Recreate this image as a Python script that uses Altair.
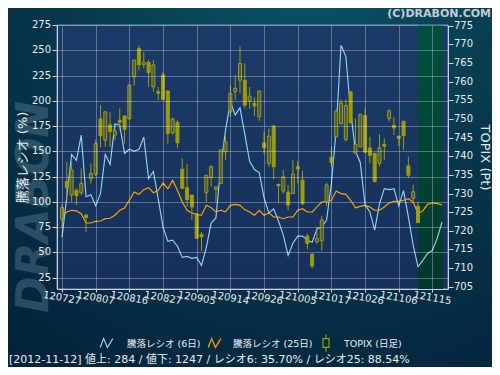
import altair as alt
import pandas as pd

# ---------------- data ----------------
tick_labels = ["120727", "120807", "120816", "120827", "120905", "120914",
               "120926", "121005", "121017", "121026", "121106", "121115"]
tick_step = 7
left_ticks = [25, 50, 75, 100, 125, 150, 175, 200, 225, 250, 275]
right_ticks = [705, 710, 715, 720, 725, 730, 735, 740, 745, 750, 755, 760, 765, 770, 775]

ratio6 = [65, 105, 147, 141, 166, 105, 107, 96, 108, 147,
          137, 177, 176, 148, 152, 150, 152, 164, 123, 130,
          103, 75, 61, 62, 56, 45, 46, 44, 45, 37,
          55, 79, 84, 135, 171, 199, 186, 193, 167, 140,
          132, 129, 104, 89, 93, 81, 67, 47, 59, 66,
          66, 62, 60, 73, 75, 82, 118, 172, 255, 244,
          190, 150, 139, 97, 90, 72, 98, 113, 112, 113,
          96, 111, 85, 57, 35.7, 42, 49, 52, 64, 80]

ratio25 = [85.0, 90.0, 91.6, 91.0, 88.3, 79.0, 79.0, 80.7, 81.0, 83.3,
           83.7, 86.7, 91.6, 93.9, 101.5, 109.7, 107.4, 112.0, 114.0, 109.0,
           111.4, 118.6, 113.0, 121.3, 111.4, 99.8, 91.6, 89.0, 87.3, 86.7,
           96.5, 94.2, 90.0, 91.6, 90.0, 96.5, 97.5, 96.5, 92.3, 90.0,
           86.7, 91.6, 86.7, 89.0, 85.0, 85.0, 83.3, 85.0, 85.0, 91.6,
           93.2, 89.9, 89.9, 94.9, 99.8, 100.5, 101.5, 110.7, 108.1, 107.4,
           101.5, 94.0, 95.5, 96.5, 94.9, 91.6, 91.6, 94.9, 98.8, 100.5,
           100.5, 101.5, 103.1, 99.8, 88.5, 91.0, 97.5, 98.8, 98.2, 96.8]

t_open = [723.1, 733.2, 729.6, 730.9, 730.2, 724.2, 734.0, 735.2, 750.0, 744.3,
          748.4, 745.7, 749.7, 750.8, 750.0, 761.3, 768.9, 764.6, 765.2, 758.6,
          757.3, 761.8, 757.5, 746.3, 749.1, 736.5, 731.6, 729.6, 724.6, 719.0,
          730.2, 734.3, 731.1, 732.7, 741.2, 751.9, 757.3, 760.4, 760.4, 754.8,
          754.2, 750.6, 743.6, 738.1, 748.1, 732.5, 730.7, 730.4, 730.0, 737.2,
          733.6, 718.6, 713.8, 717.1, 717.3, 727.8, 739.7, 745.2, 748.8, 744.5,
          757.3, 740.8, 742.5, 750.9, 742.2, 740.8, 738.1, 743.2, 750.1, 748.3,
          745.4, 749.4, 737.4, 728.7, 726.6]
t_high = [727.2, 738.5, 738.5, 731.4, 736.7, 724.6, 738.1, 744.5, 753.7, 752.2,
          751.9, 747.9, 752.8, 751.0, 759.1, 765.8, 769.8, 767.9, 765.8, 765.8,
          758.6, 762.5, 757.8, 750.4, 749.7, 739.4, 737.9, 729.6, 724.8, 719.7,
          734.9, 737.6, 731.8, 741.7, 746.1, 759.1, 761.8, 769.4, 764.9, 758.6,
          755.8, 757.5, 746.6, 747.5, 748.4, 732.5, 736.3, 732.3, 739.0, 738.8,
          736.1, 719.3, 713.8, 721.1, 723.9, 732.9, 742.7, 752.6, 755.2, 755.2,
          757.5, 750.1, 751.5, 752.8, 745.2, 740.9, 745.9, 744.8, 752.6, 750.6,
          745.4, 749.4, 739.9, 732.3, 727.8]
t_low = [720.6, 728.2, 727.8, 726.9, 729.6, 719.7, 732.7, 734.7, 742.4, 742.5,
         742.5, 744.3, 747.0, 743.4, 750.0, 758.9, 763.1, 763.6, 758.6, 757.3,
         755.1, 755.1, 743.4, 745.7, 742.1, 731.4, 726.4, 722.9, 718.0, 714.6,
         727.8, 731.8, 727.8, 732.7, 739.0, 750.6, 755.1, 756.9, 752.8, 752.8,
         750.8, 749.5, 740.8, 737.2, 733.8, 727.5, 730.0, 725.5, 729.9, 732.7,
         726.9, 715.0, 709.9, 716.4, 714.6, 726.6, 737.2, 745.0, 748.4, 743.9,
         748.8, 740.8, 742.4, 740.9, 738.1, 733.0, 737.2, 739.0, 749.3, 745.7,
         742.7, 741.7, 734.3, 727.8, 722.2]
t_close = [726.3, 731.6, 736.3, 729.4, 732.7, 723.6, 735.4, 743.4, 745.5, 751.9,
           746.6, 746.8, 749.1, 747.2, 759.1, 765.8, 764.5, 765.2, 762.4, 764.5,
           756.9, 755.2, 746.1, 750.0, 743.6, 731.4, 728.4, 726.4, 718.0, 718.4,
           734.9, 737.2, 731.8, 741.7, 743.9, 756.9, 758.2, 764.9, 753.7, 756.1,
           753.5, 757.5, 742.3, 745.4, 737.2, 732.1, 734.5, 726.9, 735.2, 736.6,
           727.3, 716.6, 710.6, 718.0, 722.9, 732.3, 738.3, 752.1, 754.2, 753.6,
           749.0, 743.2, 751.2, 741.1, 740.2, 733.2, 742.3, 742.7, 752.2, 747.6,
           744.8, 745.5, 734.9, 730.5, 722.2]

name6 = "騰落レシオ (6日)"
name25 = "騰落レシオ (25日)"
name_tp = "TOPIX (日足)"
left_title = "騰落レシオ (%)"
right_title = "TOPIX (Pt)"
info_text = "[2012-11-12] 値上: 284 / 値下: 1247 / レシオ6: 35.70% / レシオ25: 88.54%"
copyright_text = "(C)DRABON.COM"
watermark_text = "DRABON"

# ---------------- layout constants ----------------
W, H = 391, 264
PAD = {"left": 49, "top": 17, "right": 44, "bottom": 78}
X_MAX = 79.2
LEFT_DOM = [13.7, 275]
RIGHT_DOM = [704.4, 775.2]
LEG_ICON_X = [49.5, 157.5, 269]
LEG_TEXT_X = [70, 176, 287]
LEG_Y = 318

FONT = "DejaVu Sans, Noto Sans CJK JP"
TXT = "#e6ecf2"
AXC = "#c9d3de"
OLIVE = "#9d9d06"
HOLLOW = "#4a5750"
C6 = "#8fd3f2"
C25 = "#ffa500"

# ---------------- tables ----------------
n6 = len(ratio6)
lines_df = pd.DataFrame({
    "i": list(range(n6)) * 2,
    "value": ratio6 + ratio25,
    "series": [name6] * n6 + [name25] * len(ratio25),
})
nc = len(t_close)
candle_df = pd.DataFrame({"i": range(nc), "open": t_open, "high": t_high,
                          "low": t_low, "close": t_close})
future_df = pd.DataFrame({"i": [nc - 1], "x1": [X_MAX]})
one = pd.DataFrame({"a": [0]})
xtick_df = pd.DataFrame({"i": [k * tick_step for k in range(len(tick_labels))],
                         "lab": tick_labels})
ltick_df = pd.DataFrame({"value": left_ticks})
rtick_df = pd.DataFrame({"low": right_ticks})

# ---------------- scales / axes (one definition, reused everywhere) ----------------
xscale = alt.Scale(domain=[0, X_MAX], nice=False, zero=False)
x_axis = alt.Axis(values=list(xtick_df["i"]), labels=False, tickSize=3,
                  grid=True, gridColor="#ffffff", gridOpacity=0.3,
                  domainColor=AXC, tickColor=AXC, title=None, zindex=1)
X = alt.X("i:Q", scale=xscale, axis=x_axis)

lscale = alt.Scale(domain=LEFT_DOM, nice=False, zero=False)
l_axis = alt.Axis(orient="left", values=left_ticks, labels=False,
                  title=left_title, titleFont=FONT, titleFontSize=13,
                  titleFontWeight="normal", titleColor=TXT, titlePadding=22,
                  tickSize=5, tickColor=AXC, domainColor=AXC,
                  grid=True, gridColor="#ffffff", gridOpacity=0.3, zindex=1)
YL = alt.Y("value:Q", scale=lscale, axis=l_axis)

rscale = alt.Scale(domain=RIGHT_DOM, nice=False, zero=False)
r_axis = alt.Axis(orient="right", values=right_ticks, labels=False,
                  title=right_title, titleFont=FONT, titleFontSize=13,
                  titleFontWeight="normal", titleColor=TXT, titlePadding=24,
                  tickSize=5, tickColor=AXC, domainColor=AXC,
                  grid=False, zindex=1)
YR = alt.Y("low:Q", scale=rscale, axis=r_axis)

# ---------------- background layers ----------------
outer_bg = alt.Chart(one).mark_rect(
    fill=alt.Gradient(gradient="radial", x1=0.62, y1=0.0, r1=0.0,
                      x2=0.62, y2=0.0, r2=1.05,
                      stops=[alt.GradientStop(color="#0b5668", offset=0),
                             alt.GradientStop(color="#06354a", offset=0.55),
                             alt.GradientStop(color="#03223a", offset=1)])
).encode(x=alt.value(-PAD["left"]), x2=alt.value(W + PAD["right"]),
         y=alt.value(-PAD["top"]), y2=alt.value(H + PAD["bottom"]))

plot_bg = alt.Chart(one).mark_rect(
    fill=alt.Gradient(gradient="linear", x1=0, y1=0, x2=0, y2=1,
                      stops=[alt.GradientStop(color="#1c3a68", offset=0),
                             alt.GradientStop(color="#172f5b", offset=1)]),
    stroke="#7f8fb5", strokeWidth=1
).encode(x=alt.value(0), x2=alt.value(W), y=alt.value(0), y2=alt.value(H))

future_bg = alt.Chart(future_df).mark_rect(
    fill=alt.Gradient(gradient="linear", x1=0, y1=0, x2=0, y2=1,
                      stops=[alt.GradientStop(color="#00503f", offset=0),
                             alt.GradientStop(color="#00372d", offset=1)])
).encode(x=X, x2="x1:Q", y=alt.value(0), y2=alt.value(H))

watermark = alt.Chart(one).mark_text(
    text=watermark_text, angle=270, font="DejaVu Sans", fontSize=44,
    fontWeight="bold", fontStyle="italic", color="#5f8290", opacity=0.42,
    baseline="middle", align="center"
).encode(x=alt.value(-22), y=alt.value(182))

copyright = alt.Chart(one).mark_text(
    text=copyright_text, align="right", baseline="middle", font="DejaVu Sans",
    fontSize=11, fontWeight="bold", color="#c3ccd4"
).encode(x=alt.value(434), y=alt.value(-11))

info = alt.Chart(one).mark_text(
    text=info_text, align="left", baseline="middle", font=FONT,
    fontSize=11, color=TXT
).encode(x=alt.value(-48), y=alt.value(335))

xlabels = alt.Chart(xtick_df).mark_text(
    align="center", baseline="middle", angle=10, font="DejaVu Sans",
    fontSize=10, color=TXT
).encode(x=X, y=alt.value(H + 9), text="lab:N")

# ---------------- ratio lines (left axis) ----------------
line6 = alt.Chart(lines_df).transform_filter(alt.datum.series == name6).mark_line(
    color=C6, strokeWidth=1.15).encode(x=X, y=YL)
line25 = alt.Chart(lines_df).transform_filter(alt.datum.series == name25).mark_line(
    color=C25, strokeWidth=1.15).encode(x=X, y=YL)
left_labels = alt.Chart(ltick_df).mark_text(
    align="right", baseline="middle", font="DejaVu Sans", fontSize=10, color=TXT
).encode(x=alt.value(-6), y=YL, text="value:Q")
left_group = alt.layer(line6, line25, left_labels)

# ---------------- candles (right axis) ----------------
wicks = alt.Chart(candle_df).mark_rule(color=OLIVE, strokeWidth=1).encode(
    x=X, y=YR, y2="high:Q")
bodies = alt.Chart(candle_df).mark_bar(size=3, stroke=OLIVE, strokeWidth=1).encode(
    x=X, y=alt.Y("open:Q", scale=rscale, axis=r_axis), y2="close:Q",
    fill=alt.condition("datum.close >= datum.open", alt.value(HOLLOW), alt.value(OLIVE)))
right_labels = alt.Chart(rtick_df).mark_text(
    align="left", baseline="middle", font="DejaVu Sans", fontSize=10, color=TXT
).encode(x=alt.value(W + 6), y=YR, text="low:Q")
right_group = alt.layer(wicks, bodies, right_labels)

# ---------------- legend (drawn as annotation) ----------------
zig = "M-1,0.7L-0.45,-0.7L0.15,0.7L1,-0.7"
candle_icon = "M0,-1.35V-0.7M-0.48,-0.7H0.48V0.7H-0.48ZM0,0.7V1.35"
leg_names = [name6, name25, name_tp]
leg_colors = [C6, C25, OLIVE]
leg_shapes = [zig, zig, candle_icon]
legend_layers = []
for k in range(len(leg_names)):
    legend_layers.append(alt.Chart(one).mark_point(
        shape=leg_shapes[k], filled=False, color=leg_colors[k], size=160,
        strokeWidth=1.2, opacity=1
    ).encode(x=alt.value(LEG_ICON_X[k]), y=alt.value(LEG_Y)))
    legend_layers.append(alt.Chart(one).mark_text(
        text=leg_names[k], align="left", baseline="middle", font=FONT,
        fontSize=9.5, color=TXT
    ).encode(x=alt.value(LEG_TEXT_X[k]), y=alt.value(LEG_Y + 1)))

chart = alt.layer(
    outer_bg, watermark, copyright, info, plot_bg, future_bg,
    left_group, right_group, xlabels, *legend_layers
).resolve_scale(y="independent").properties(
    width=W, height=H,
    padding=PAD,
    autosize=alt.AutoSizeParams(type="none"),
    background="#052c40",
).configure_view(stroke=None)

chart.save("out.html", embed_options={"renderer": "svg", "actions": False})
